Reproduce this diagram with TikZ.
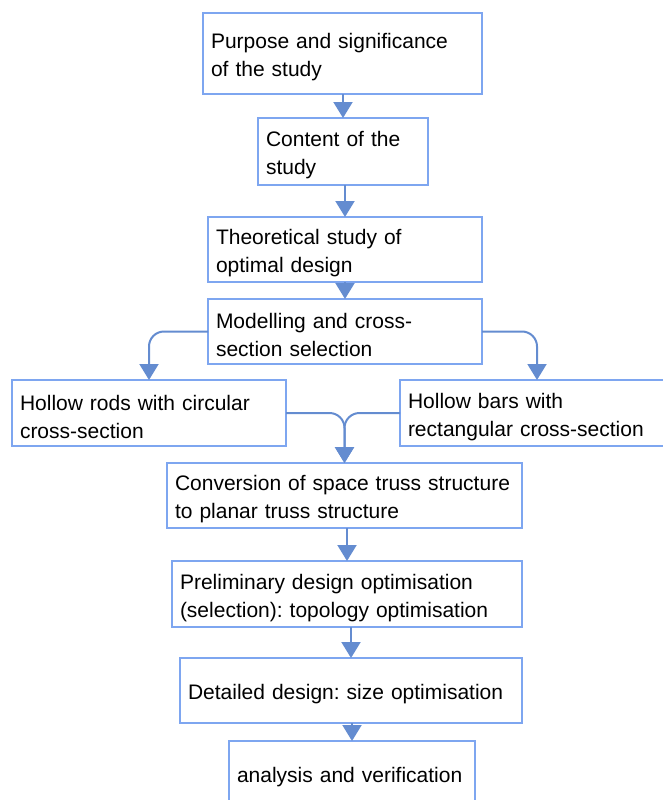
\documentclass[tikz,border=0pt]{standalone}
\usepackage{fontspec}
\setmainfont{Liberation Sans}
\usetikzlibrary{arrows.meta}
\definecolor{boxblue}{RGB}{126,166,240}
\definecolor{arrowblue}{RGB}{100,140,208}
\frenchspacing

\begin{document}
\begin{tikzpicture}[x=1pt, y=-1pt,
		stage/.style={draw=boxblue, line width=2pt, anchor=north west, align=left,
			inner xsep=8pt, inner ysep=0pt, outer sep=0pt,
			font=\fontsize{21}{28}\selectfont,
			execute at begin node={\rule{0pt}{23pt}}},
		flow/.style={draw=arrowblue, line width=2pt, rounded corners=15pt,
			-{Triangle[width=19pt,length=16pt]}}]
				\useasboundingbox (0,0) rectangle (662,800);
				\node[stage, text width=263pt, minimum height=81pt] (purpose) at (203,13) {Purpose and significance\\of the study};
				\node[stage, text width=154pt, minimum height=67pt] (content) at (258,118) {Content of the\\study};
				\node[stage, text width=258pt, minimum height=65pt] (theory) at (208,217) {Theoretical study of\\optimal design};
				\node[stage, text width=258pt, minimum height=65pt] (model) at (208,299) {Modelling and cross-\\section selection};
				\node[stage, text width=258pt, minimum height=66pt] (rods) at (12,380) {Hollow rods with circular\\cross-section};
				\node[stage, text width=258pt, minimum height=66pt] (bars) at (400,380) {Hollow bars with\\rectangular cross-section};
				\node[stage, text width=339pt, minimum height=65pt] (convert) at (167,463) {Conversion of space truss structure\\to planar truss structure};
				\node[stage, text width=334pt, minimum height=66pt] (prelim) at (172,561) {Preliminary design optimisation\\(selection): topology optimisation};
				\node[stage, text width=326pt, minimum height=65pt] (detail) at (180,658) {Detailed design: size optimisation};
				\node[stage, text width=230pt, minimum height=64pt] (verify) at (229,741) {analysis and verification};
				\draw[flow] (content.north |- purpose.south) -- (content.north);
				\draw[flow] (theory.north |- content.south) -- (theory.north);
				\draw[flow] (model.north |- theory.south) -- (model.north);
				\draw[flow] (model.west) -| (rods.north);
				\draw[flow] (model.east) -| (bars.north);
				\draw[flow] (rods.east) -| (convert.north);
				\draw[flow] (bars.west) -| (convert.north);
				\draw[flow] (prelim.north |- convert.south) -- (prelim.north);
				\draw[flow] (detail.north |- prelim.south) -- (detail.north);
				\draw[flow] (verify.north |- detail.south) -- (verify.north);
			\end{tikzpicture}
\end{document}
